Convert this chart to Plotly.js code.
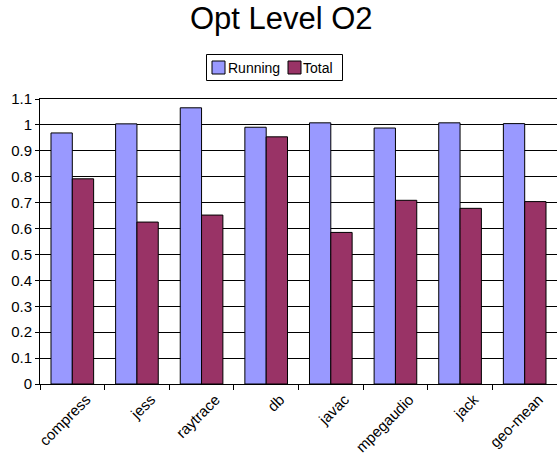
<!DOCTYPE html>
<html>
<head>
<meta charset="utf-8">
<script src="https://cdn.plot.ly/plotly-3.0.1.min.js"></script>
<style>
  html, body { margin: 0; padding: 0; background: #fff; }
  #chart { width: 557px; height: 461px; }
</style>
</head>
<body>
<div id="chart"></div>
<script>
// Benchmarks and normalised times at optimisation level O2
const benchmarks = ["compress", "jess", "raytrace", "db", "javac", "mpegaudio", "jack", "geo-mean"];
const runningValues = [0.969, 1.004, 1.066, 0.991, 1.008, 0.988, 1.008, 1.005];
const totalValues = [0.792, 0.625, 0.652, 0.954, 0.585, 0.709, 0.678, 0.704];
const seriesNames = ["Running", "Total"];
const seriesColors = ["#9999FF", "#993366"];
const yTickValues = [0, 0.1, 0.2, 0.3, 0.4, 0.5, 0.6, 0.7, 0.8, 0.9, 1, 1.1];
const yTickLabels = ["0", "0.1", "0.2", "0.3", "0.4", "0.5", "0.6", "0.7", "0.8", "0.9", "1", "1.1"];

const font = "Arial, 'Liberation Sans', sans-serif";

const W = 557, H = 461;
const M = { l: 40, r: 0, t: 99, b: 77 };
const plotW = W - M.l - M.r, plotH = H - M.t - M.b;
// pixel -> paper coordinates, for the boxed key above the plot
const px = x => (x - M.l) / plotW;
const py = y => (H - M.b - y) / plotH;

const traces = [runningValues, totalValues].map((vals, i) => ({
  type: "bar",
  name: seriesNames[i],
  x: benchmarks,
  y: vals,
  showlegend: false,
  marker: { color: seriesColors[i], line: { color: "#000", width: 1 } }
}));

// Compact boxed key: frame, two swatches, two labels
const key = { left: 206.5, right: 342.5, top: 54.5, bottom: 80.5 };
const swatches = [{ x0: 212, x1: 225, textX: 228 }, { x0: 288, x1: 301, textX: 303 }];
const swTop = 61, swBottom = 74;

const shapes = [
  {
    type: "rect", xref: "paper", yref: "paper",
    x0: px(key.left), x1: px(key.right), y0: py(key.bottom), y1: py(key.top),
    line: { color: "#000", width: 1 }, fillcolor: "#fff", layer: "above"
  }
].concat(swatches.map((s, i) => ({
  type: "rect", xref: "paper", yref: "paper",
  x0: px(s.x0), x1: px(s.x1), y0: py(swBottom), y1: py(swTop),
  line: { color: "#000", width: 1 }, fillcolor: seriesColors[i], layer: "above"
})));

const annotations = swatches.map((s, i) => ({
  xref: "paper", yref: "paper",
  x: px(s.textX), y: py((key.top + key.bottom) / 2),
  xanchor: "left", yanchor: "middle",
  borderpad: 0, borderwidth: 0,
  text: seriesNames[i], showarrow: false,
  font: { family: font, size: 14, color: "#000" }
}));

const layout = {
  width: W,
  height: H,
  margin: M,
  paper_bgcolor: "#fff",
  plot_bgcolor: "#fff",
  barmode: "group",
  bargap: 0.34,
  bargroupgap: 0,
  font: { family: font, color: "#000", size: 14 },
  title: {
    text: "Opt Level O2",
    font: { family: font, size: 31, color: "#000" },
    xref: "container", x: 0.505, xanchor: "center",
    yref: "container", y: 0.96, yanchor: "middle"
  },
  showlegend: false,
  shapes: shapes,
  annotations: annotations,
  xaxis: {
    type: "category",
    tickangle: -45,
    tickson: "boundaries",
    ticks: "outside",
    ticklen: 5,
    tickcolor: "#000",
    ticklabelshift: 14,
    showline: true,
    linecolor: "#000",
    linewidth: 1,
    mirror: true,
    showgrid: false,
    tickfont: { family: font, size: 15, color: "#000" },
    fixedrange: true
  },
  yaxis: {
    range: [0, 1.1],
    tickvals: yTickValues,
    ticktext: yTickLabels,
    ticks: "outside",
    ticklen: 4,
    tickcolor: "#000",
    showline: true,
    linecolor: "#000",
    linewidth: 1,
    showgrid: true,
    gridcolor: "#000",
    gridwidth: 1,
    zeroline: false,
    tickfont: { family: font, size: 15, color: "#000" },
    fixedrange: true
  }
};

Plotly.newPlot("chart", traces, layout, { displayModeBar: false, staticPlot: true });
</script>
</body>
</html>
